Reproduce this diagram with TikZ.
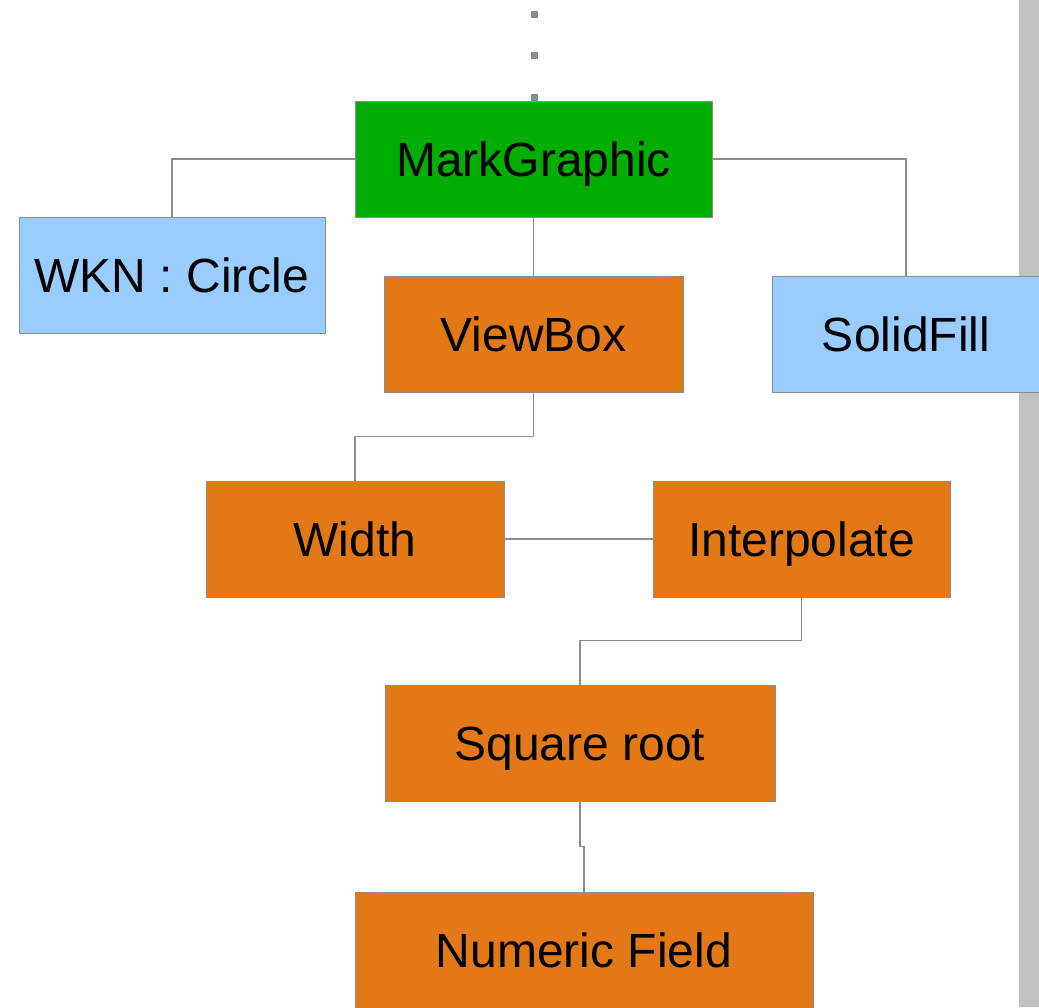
\documentclass[tikz,border=0pt]{standalone}
\usepackage{fontspec}
\setsansfont{Liberation Sans}
\usepackage{tikz}
\usetikzlibrary{positioning}
\definecolor{markgreen}{HTML}{00AD00}
\definecolor{boxorange}{HTML}{E37817}
\definecolor{boxblue}{HTML}{99CCFF}
\definecolor{linegray}{HTML}{8C8C8C}
\definecolor{bargray}{HTML}{C0C0C0}

\begin{document}
\begin{tikzpicture}[x=0.5pt,y=-0.5pt,font=\sffamily\fontsize{24}{28}\selectfont,box/.style={draw=linegray,line width=0.5pt,inner sep=0pt,minimum height=58pt,text height=17.2pt,text depth=0pt},greenbox/.style={box,fill=markgreen},orangebox/.style={box,fill=boxorange},bluebox/.style={box,fill=boxblue},link/.style={draw=linegray,line width=0.6pt}]
\useasboundingbox (0,0) rectangle (1039,1007);
\fill[bargray] (1018,0) rectangle (1039,1007);
\draw[white!85!bargray,line width=0.6pt] (1018.5,0) -- (1018.5,1007);
\foreach \y [count=\i] in {14,55,97}{\node[fill=gray!90,inner sep=0pt,minimum size=3.5pt] (dot\i) at (534,\y){};}
\node[greenbox,minimum width=178.5pt] (mark) at (533.5,159){MarkGraphic};
\node[bluebox,minimum width=153pt] (wkn) at (172,275.5){WKN : Circle};
\node[orangebox,minimum width=149.5pt] (viewbox) at (533.5,334){ViewBox};
\node[bluebox,minimum width=134pt] (solid) at (906,334){SolidFill};
\node[orangebox,minimum width=149pt] (width) at (355,539){Width};
\node[orangebox,minimum width=148.5pt] (interp) at (801.5,539){Interpolate};
\node[orangebox,minimum width=195pt] (sqroot) at (580,743){Square root};
\node[orangebox,minimum width=229pt] (numfield) at (584,950){Numeric Field};
\draw[link] (mark.west) -| (wkn.north);
\draw[link] (mark.east) -| (solid.north);
\draw[link] (mark.south) -- (viewbox.north);
\draw[link] (viewbox.south) -- ++(0,44) -| (width.north);
\draw[link] (width.east) -- (interp.west);
\draw[link] (interp.south) -- ++(0,43) -| (sqroot.north);
\draw[link] (sqroot.south) -- ++(0,45) -| (numfield.north);
\end{tikzpicture}
\end{document}
